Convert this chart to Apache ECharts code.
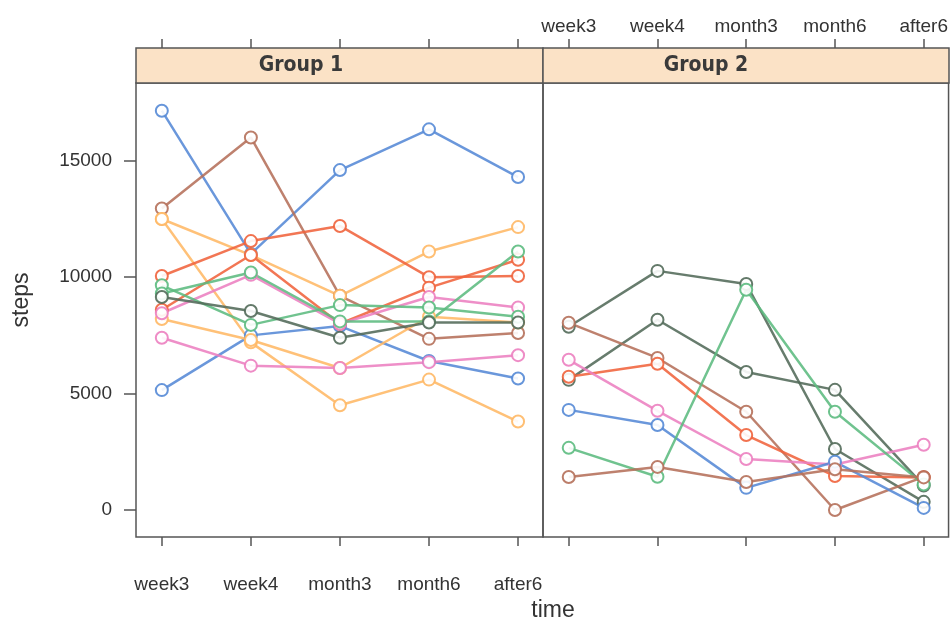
<!DOCTYPE html>
<html>
<head>
<meta charset="utf-8">
<script src="https://cdn.jsdelivr.net/npm/echarts@6/dist/echarts.min.js"></script>
<style>
html,body{margin:0;padding:0;background:#fff;}
#chart{width:951px;height:627px;}
</style>
</head>
<body>
<div id="chart"></div>
<script>
// ---- data ----
var categories = ['week3', 'week4', 'month3', 'month6', 'after6'];
var yTicks = [0, 5000, 10000, 15000];
var panelNames = ['Group 1', 'Group 2'];

// Group 1
var g1BlueA     = [17150, 11000, 14600, 16350, 14300];
var g1BlueB     = [5150, 7500, 7900, 6400, 5650];
var g1Brown     = [12950, 16000, 9200, 7350, 7600];
var g1OrangeA   = [12500, 10950, 9200, 11100, 12150];
var g1OrangeB   = [12500, 7200, 4500, 5600, 3800];
var g1OrangeC   = [8200, 7300, 6100, 8300, 8050];
var g1RedA      = [10050, 11550, 12200, 10000, 10050];
var g1RedB      = [8600, 10950, 8000, 9550, 10750];
var g1PinkA     = [8450, 10100, 8000, 9150, 8700];
var g1PinkB     = [7400, 6200, 6100, 6350, 6650];
var g1GreenA    = [9650, 7950, 8800, 8700, 8300];
var g1GreenB    = [9300, 10200, 8100, 8100, 11100];
var g1DarkGreen = [9150, 8550, 7400, 8050, 8050];

// Group 2
var g2DarkGreenA = [7870, 10270, 9710, 2620, 350];
var g2DarkGreenB = [5590, 8170, 5930, 5160, 1050];
var g2BrownA     = [8040, 6530, 4220, 0, 1420];
var g2Red        = [5720, 6280, 3220, 1460, 1400];
var g2Pink       = [6450, 4260, 2190, 1950, 2800];
var g2Blue       = [4300, 3650, 950, 2070, 90];
var g2Green      = [2670, 1430, 9460, 4220, 1100];
var g2BrownB     = [1420, 1850, 1200, 1750, 1400];

// ---- styling ----
var C = {
  blue: '#5589d6', brown: '#b5705a', orange: '#ffb865', red: '#f0633c',
  pink: '#ec80c0', green: '#5cbb80', dark: '#526a59'
};
var group1 = [
  [g1BlueA, C.blue], [g1BlueB, C.blue], [g1Brown, C.brown],
  [g1OrangeA, C.orange], [g1OrangeB, C.orange], [g1OrangeC, C.orange],
  [g1RedA, C.red], [g1RedB, C.red], [g1PinkA, C.pink], [g1PinkB, C.pink],
  [g1GreenA, C.green], [g1GreenB, C.green], [g1DarkGreen, C.dark]
];
var group2 = [
  [g2DarkGreenA, C.dark], [g2DarkGreenB, C.dark], [g2BrownA, C.brown],
  [g2Red, C.red], [g2Pink, C.pink], [g2Blue, C.blue], [g2Green, C.green],
  [g2BrownB, C.brown]
];

var txt = '#333';
var axisCol = '#555';
var FONT = '"Liberation Sans", Arial, sans-serif';
var xVals = categories.map(function (c, i) { return i + 1; });

function mkSeries(list, idx) {
  return list.map(function (p) {
    return {
      type: 'line',
      xAxisIndex: idx * 2, yAxisIndex: idx,
      data: p[0].map(function (v, i) { return [i + 1, v]; }),
      symbol: 'emptyCircle', symbolSize: 12,
      clip: false,
      lineStyle: { color: p[1], width: 2.5, opacity: 0.88 },
      itemStyle: { color: p[1], borderColor: p[1], borderWidth: 2.2, opacity: 0.9 },
      emphasis: { disabled: true }
    };
  });
}

function xAxisDef(gridIndex, position, showLabels) {
  return {
    type: 'value', gridIndex: gridIndex, position: position,
    min: 0.71, max: 5.28,
    offset: position === 'top' ? 35 : 0,
    axisLine: { show: false, onZero: false },
    splitLine: { show: false },
    axisTick: { show: true, customValues: xVals, length: 9, lineStyle: { color: axisCol, width: 1.5 } },
    axisLabel: {
      show: showLabels, customValues: xVals,
      margin: position === 'top' ? 12 : 38,
      color: txt, fontSize: 19, fontFamily: FONT,
      formatter: function (v) { return categories[Math.round(v) - 1] || ''; }
    }
  };
}

function yAxisDef(gridIndex, showLabels) {
  return {
    type: 'value', gridIndex: gridIndex, position: 'left',
    min: -1160, max: 18340,
    axisLine: { show: false, onZero: false },
    splitLine: { show: false },
    axisTick: { show: showLabels, customValues: yTicks, length: 12, lineStyle: { color: axisCol, width: 1.5 } },
    axisLabel: {
      show: showLabels, customValues: yTicks, margin: 24,
      color: txt, fontSize: 19, fontFamily: FONT,
      formatter: function (v) { return String(Math.round(v)); }
    }
  };
}

var chart = echarts.init(document.getElementById('chart'), null, { renderer: 'canvas' });
var option = {
  animation: false,
  backgroundColor: '#fff',
  grid: [
    { left: 136, top: 83, width: 407, height: 454, show: true, borderColor: axisCol, borderWidth: 1.5, backgroundColor: 'transparent' },
    { left: 543, top: 83, width: 406, height: 454, show: true, borderColor: axisCol, borderWidth: 1.5, backgroundColor: 'transparent' }
  ],
  xAxis: [
    xAxisDef(0, 'bottom', true), xAxisDef(0, 'top', false),
    xAxisDef(1, 'bottom', false), xAxisDef(1, 'top', true)
  ],
  yAxis: [yAxisDef(0, true), yAxisDef(1, false)],
  series: mkSeries(group1, 0).concat(mkSeries(group2, 1)),
  graphic: [
    { type: 'rect', shape: { x: 136, y: 48, width: 407, height: 35 }, style: { fill: '#fbe2c6', stroke: axisCol, lineWidth: 1.5 }, z: 10 },
    { type: 'rect', shape: { x: 543, y: 48, width: 406, height: 35 }, style: { fill: '#fbe2c6', stroke: axisCol, lineWidth: 1.5 }, z: 10 },
    { type: 'text', x: 301, y: 66, z: 11, style: { text: panelNames[0], fill: '#3a3a3a', font: 'bold 21px "DejaVu Sans Condensed", "Liberation Sans Narrow", "DejaVu Sans"', textAlign: 'center', textVerticalAlign: 'middle' } },
    { type: 'text', x: 706, y: 66, z: 11, style: { text: panelNames[1], fill: '#3a3a3a', font: 'bold 21px "DejaVu Sans Condensed", "Liberation Sans Narrow", "DejaVu Sans"', textAlign: 'center', textVerticalAlign: 'middle' } },
    { type: 'text', x: 22, y: 300, rotation: Math.PI / 2, z: 11, style: { text: 'steps', fill: txt, font: '23px "Liberation Sans", Arial, sans-serif', textAlign: 'center', textVerticalAlign: 'middle' } },
    { type: 'text', x: 553, y: 611, z: 11, style: { text: 'time', fill: txt, font: '23px "Liberation Sans", Arial, sans-serif', textAlign: 'center', textVerticalAlign: 'middle' } }
  ]
};
chart.setOption(option);
</script>
</body>
</html>
